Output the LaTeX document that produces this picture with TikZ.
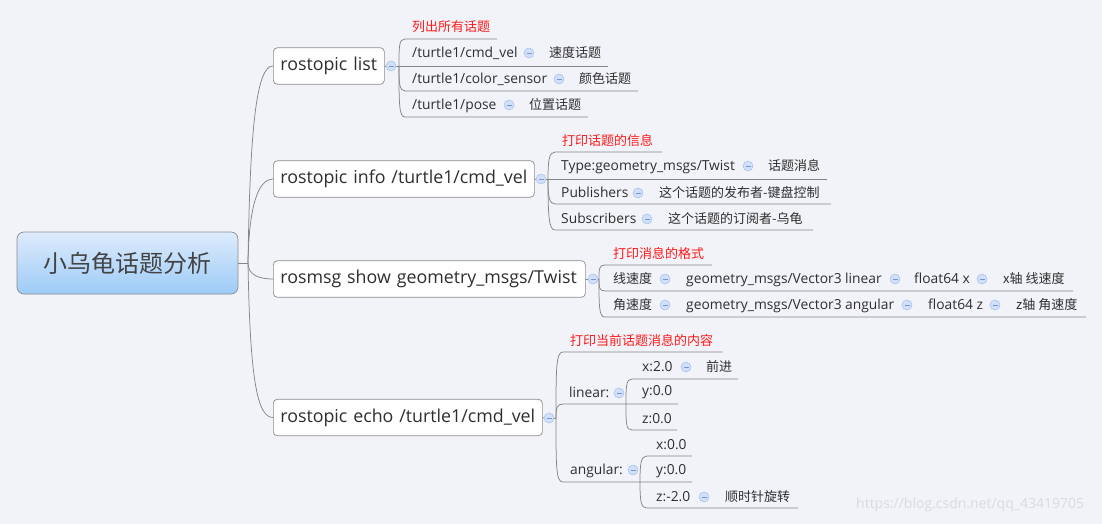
\documentclass[tikz,border=0pt]{standalone}
\usepackage{fontspec}
\setmainfont{Open Sans}
\newfontfamily\cjk{Noto Sans CJK SC}
\definecolor{bg}{HTML}{F2F3F8}
\definecolor{txt}{HTML}{2E2E2E}
\definecolor{redt}{HTML}{FF1A1A}
\definecolor{lnc}{HTML}{858585}
\definecolor{bord}{HTML}{8C8C8C}
\definecolor{foldf}{HTML}{D0E0FA}
\definecolor{foldd}{HTML}{A3BEEA}
\definecolor{foldm}{HTML}{7796D2}
\definecolor{roottop}{HTML}{DDEBFC}
\definecolor{rootbot}{HTML}{9ECBF7}
\definecolor{wmc}{HTML}{DADBE0}
\begin{document}
\begin{tikzpicture}[x=1pt,y=-1pt,
  lat/.style={anchor=west, inner sep=0pt, text=txt, font=\fontsize{13.8}{14}\selectfont, text height=10.5pt, text depth=1.4pt},
  chn/.style={anchor=west, inner sep=0pt, text=txt, font=\cjk\fontsize{13}{14}\selectfont, text height=11.4pt, text depth=1.6pt},
  redl/.style={chn, text=redt},
  topic/.style={draw=bord, fill=white, rounded corners=4pt, anchor=west, text=txt,
    font=\fontsize{17.8}{18}\selectfont, minimum height=36.5pt, inner xsep=7pt, inner ysep=0pt,
    text width=#1, align=left, line width=0.7pt, text height=13.5pt, text depth=4.3pt},
  fold/.style={circle, draw=foldd, fill=foldf, minimum size=10pt, inner sep=0pt, line width=0.5pt,
    path picture={\draw[foldm, line width=0.7pt] ([xshift=-2.5pt]path picture bounding box.center) -- ([xshift=2.5pt]path picture bounding box.center);}},
  ln/.style={draw=lnc, line width=0.75pt}
]
\fill[bg] (0,0) rectangle (1102,524);

% root
\node[draw=bord, rounded corners=7pt, top color=roottop, bottom color=rootbot, minimum width=221pt,
  minimum height=62pt, inner sep=0pt, line width=0.7pt, font=\cjk\fontsize{24}{24}\selectfont, text=txt!90]
  (root) at (127.5,263) {小乌龟话题分析};

% topics
\node[topic=97pt] (list) at (273,66) {rostopic list};
\node[topic=247pt] (info) at (273,179) {rostopic info /turtle1/cmd\_vel};
\node[topic=298pt] (msg) at (273,279) {rosmsg show geometry\_msgs/Twist};
\node[topic=255pt] (echo) at (273,417.5) {rostopic echo /turtle1/cmd\_vel};

\coordinate (hub) at (248,263);
\draw[ln] (root.east) -- (hub);
\draw[ln] (hub) .. controls +(2,-140) and +(-16,0) .. (list.west);
\draw[ln] (hub) .. controls +(1,-60) and +(-14,0) .. (info.west);
\draw[ln] (hub) .. controls +(0,12) and +(-14,0) .. (msg.west);
\draw[ln] (hub) .. controls +(2,115) and +(-16,0) .. (echo.west);

% folds of topics
\node[fold] (lf) at (391,66) {};
\node[fold] (if) at (541,179) {};
\node[fold] (mf) at (593,279) {};
\node[fold] (ef) at (549,418) {};
\draw[ln] (list.east) -- (lf.west);
\draw[ln] (info.east) -- (if.west);
\draw[ln] (msg.east) -- (mf.west);
\draw[ln] (echo.east) -- (ef.west);

% ---- list children
\coordinate (lh) at (399,66);
\draw[ln] (lf.east) -- (lh);
\coordinate (l0a) at (405,39); \coordinate (l0b) at (497,39);
\coordinate (l1b) at (608,66);
\coordinate (l2a) at (405,91); \coordinate (l2b) at (638,91);
\coordinate (l3a) at (405,117); \coordinate (l3b) at (588,117);
\draw[ln] (lh) .. controls +(0,-20) and +(-6,0) .. (l0a) -- (l0b);
\draw[ln] (lh) -- (l1b);
\draw[ln] (lh) .. controls +(0,16) and +(-6,0) .. (l2a) -- (l2b);
\draw[ln] (lh) .. controls +(0,38) and +(-6,0) .. (l3a) -- (l3b);
\node[redl] (l0) at (412,27) {列出所有话题};
\node[lat] (l1) at (412,53) {/turtle1/cmd\_vel};
\node[fold] (l1f) at (529,53) {};
\node[chn] (l1c) at (549,53) {速度话题};
\node[lat] (l2) at (412,79) {/turtle1/color\_sensor};
\node[fold] (l2f) at (559,79) {};
\node[chn] (l2c) at (579,79) {颜色话题};
\node[lat] (l3) at (412,105) {/turtle1/pose};
\node[fold] (l3f) at (509,105) {};
\node[chn] (l3c) at (529,105) {位置话题};

% ---- info children
\coordinate (ih) at (548,179);
\draw[ln] (if.east) -- (ih);
\coordinate (i0a) at (555,152); \coordinate (i0b) at (662,152);
\coordinate (i1b) at (827,179);
\coordinate (i2a) at (555,204); \coordinate (i2b) at (831,204);
\coordinate (i3a) at (555,230); \coordinate (i3b) at (813,230);
\draw[ln] (ih) .. controls +(0,-18) and +(-6,0) .. (i0a) -- (i0b);
\draw[ln] (ih) -- (i1b);
\draw[ln] (ih) .. controls +(0,17) and +(-6,0) .. (i2a) -- (i2b);
\draw[ln] (ih) .. controls +(0,38) and +(-6,0) .. (i3a) -- (i3b);
\node[redl] (i0) at (562,141) {打印话题的信息};
\node[lat] (i1) at (561,166) {Type:geometry\_msgs/Twist};
\node[fold] (i1f) at (748,166) {};
\node[chn] (i1c) at (768,166) {话题消息};
\node[lat] (i2) at (561,193) {Publishers};
\node[fold] (i2f) at (638,193) {};
\node[chn] (i2c) at (659,193) {这个话题的发布者-键盘控制};
\node[lat] (i3) at (561,219) {Subscribers};
\node[fold] (i3f) at (647,219) {};
\node[chn] (i3c) at (668,219) {这个话题的订阅者-乌龟};

% ---- msg children
\coordinate (mh) at (599,279);
\draw[ln] (mf.east) -- (mh);
\coordinate (m0a) at (605,265); \coordinate (m0b) at (712,265);
\coordinate (m1a) at (605,291); \coordinate (m1b) at (1073,291);
\coordinate (m2a) at (605,317); \coordinate (m2b) at (1086,317);
\draw[ln] (mh) .. controls +(0,-10) and +(-6,0) .. (m0a) -- (m0b);
\draw[ln] (mh) .. controls +(0,8) and +(-6,0) .. (m1a) -- (m1b);
\draw[ln] (mh) .. controls +(0,28) and +(-6,0) .. (m2a) -- (m2b);
\node[redl] (m0) at (613,254) {打印消息的格式};
\node[chn] (m1) at (613,279) {线速度};
\node[fold] (m1f) at (665,279) {};
\node[lat] (m1g) at (686,279) {geometry\_msgs/Vector3 linear};
\node[fold] (m1gf) at (895,279) {};
\node[lat] (m1h) at (914,279) {float64 x};
\node[fold] (m1hf) at (982,279) {};
\node[chn] (m1i) at (1003,279) {x轴 线速度};
\node[chn] (m2) at (613,305) {角速度};
\node[fold] (m2f) at (665,305) {};
\node[lat] (m2g) at (686,305) {geometry\_msgs/Vector3 angular};
\node[fold] (m2gf) at (907,305) {};
\node[lat] (m2h) at (928,305) {float64 z};
\node[fold] (m2hf) at (995,305) {};
\node[chn] (m2i) at (1016,305) {z轴 角速度};

% ---- echo children
\coordinate (eh) at (556,418);
\draw[ln] (ef.east) -- (eh);
\coordinate (e0a) at (563,352); \coordinate (e0b) at (723,352);
\coordinate (e1a) at (563,404); \coordinate (e1h) at (626,404); \coordinate (e1b) at (678,404);
\coordinate (e2a) at (563,482); \coordinate (e2h) at (640,482); \coordinate (e2b) at (692,482);
\draw[ln] (eh) .. controls +(0,-50) and +(-7,0) .. (e0a) -- (e0b);
\draw[ln] (eh) .. controls +(0,-10) and +(-6,0) .. (e1a) -- (e1h) -- (e1b);
\draw[ln] (eh) .. controls +(0,50) and +(-7,0) .. (e2a) -- (e2h) -- (e2b);
\node[redl] (e0) at (570,341) {打印当前话题消息的内容};
\node[lat] (e1) at (569,393) {linear:};
\node[fold] (e1f) at (619,393) {};
\node[lat] (e2) at (570,470) {angular:};
\node[fold] (e2f) at (633,470) {};
% linear children
\coordinate (e11a) at (632,379); \coordinate (e11b) at (738,379);
\coordinate (e13a) at (632,430); \coordinate (e13b) at (677,430);
\draw[ln] (e1h) .. controls +(0,-18) and +(-6,0) .. (e11a) -- (e11b);
\draw[ln] (e1h) .. controls +(0,20) and +(-6,0) .. (e13a) -- (e13b);
\node[lat] (e11) at (642,367) {x:2.0};
\node[fold] (e11f) at (686,367) {};
\node[chn] (e11c) at (706,367) {前进};
\node[lat] (e12) at (642,391) {y:0.0};
\node[lat] (e13) at (642,419) {z:0.0};
% angular children
\coordinate (e21a) at (647,456); \coordinate (e21b) at (692,456);
\coordinate (e23a) at (647,508); \coordinate (e23b) at (798,508);
\draw[ln] (e2h) .. controls +(0,-19) and +(-6,0) .. (e21a) -- (e21b);
\draw[ln] (e2h) .. controls +(0,20) and +(-6,0) .. (e23a) -- (e23b);
\node[lat] (e21) at (656,445) {x:0.0};
\node[lat] (e22) at (656,470) {y:0.0};
\node[lat] (e23) at (656,497) {z:-2.0};
\node[fold] (e23f) at (704,497) {};
\node[chn] (e23c) at (725,497) {顺时针旋转};

% watermark
\node[anchor=west, inner sep=0pt, text=wmc, font=\fontsize{14}{14}\selectfont] (wm) at (856,505) {https://blog.csdn.net/qq\_43419705};
\end{tikzpicture}
\end{document}
